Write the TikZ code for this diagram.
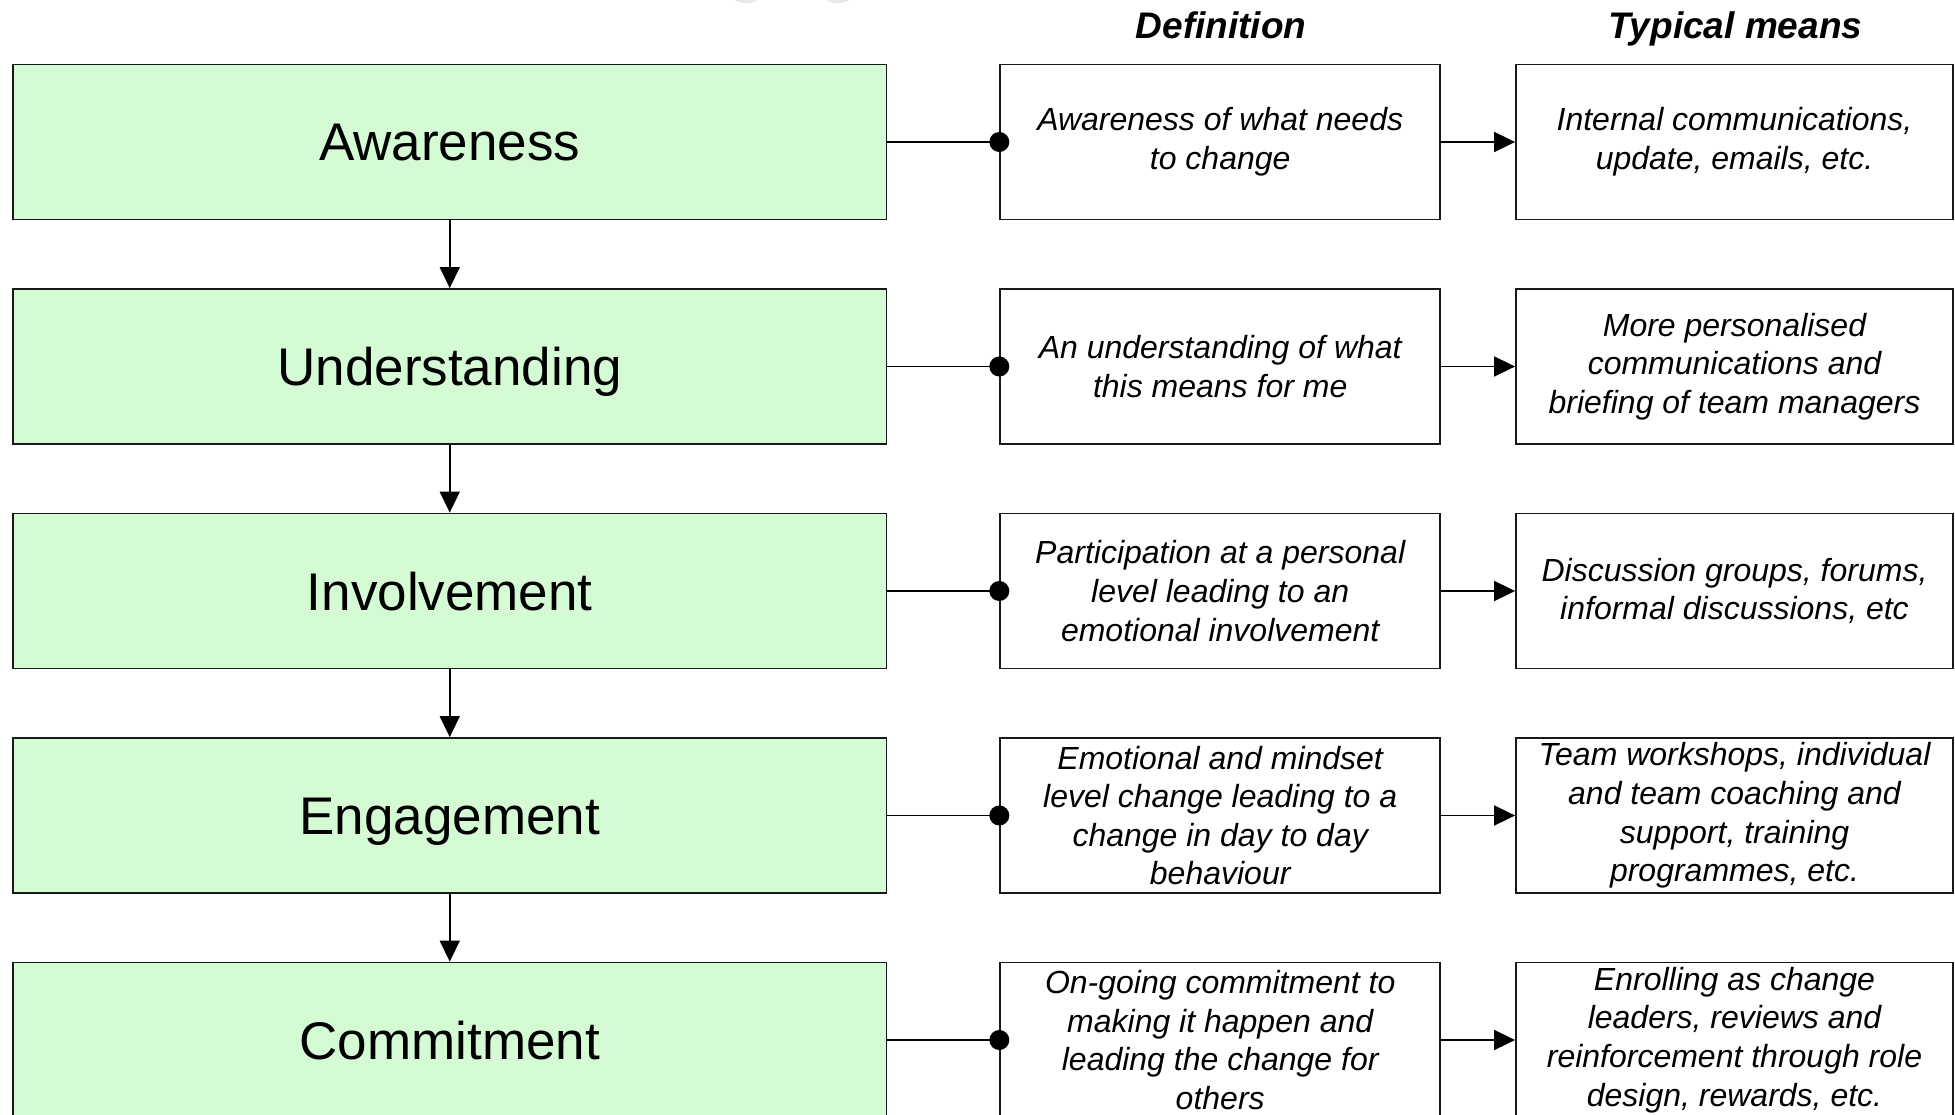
\documentclass[tikz,border=0pt]{standalone}
\usepackage{fontspec}
\setmainfont{Liberation Sans}
\usetikzlibrary{arrows.meta}
\definecolor{stagegreen}{RGB}{212,251,212}
\definecolor{edgegrey}{RGB}{25,25,25}
\definecolor{ghost}{RGB}{232,232,232}
\begin{document}
\begin{tikzpicture}[x=1pt,y=-1pt,
  stage/.style={draw=edgegrey,line width=1.8pt,fill=stagegreen,
    minimum width=873.5pt,minimum height=155pt,inner sep=0pt,
    font=\fontsize{53}{64}\selectfont,text height=38pt,text depth=0pt},
  infobox/.style={draw=edgegrey,line width=1.8pt,fill=white,
    minimum height=155pt,inner sep=0pt,align=center,
    font=\fontsize{32}{38.6}\selectfont\itshape},
  defbox/.style={infobox,minimum width=440pt},
  meansbox/.style={infobox,minimum width=437pt},
  header/.style={font=\fontsize{37}{44}\selectfont\bfseries\itshape,
    inner sep=0pt,anchor=base},
  link/.style={line width=1.7pt},
  flow/.style={line width=1.7pt,-{Triangle[length=21pt,width=20pt]}},
  down/.style={line width=1.5pt,-{Triangle[length=21pt,width=20pt]}},
]
\useasboundingbox (0,0) rectangle (1955,1115);

% faint marks along the top edge
\fill[ghost] (746,-5) ellipse[x radius=15pt,y radius=8pt];
\fill[ghost] (838,-5) ellipse[x radius=15pt,y radius=8pt];

% column headers
\node[header] (hdef) at (1221,38.6) {Definition};
\node[header] (hmeans) at (1735.5,38.6) {Typical means};

% stages
\node[stage] (g1) at (449.75,142) {Awareness};
\node[stage] (g2) at (449.75,366.5) {Understanding};
\node[stage] (g3) at (449.75,591) {Involvement};
\node[stage] (g4) at (449.75,815.5) {Engagement};
\node[stage] (g5) at (449.75,1040) {Commitment};

% definitions
\node[defbox] (d1) at (1220.2,142) {Awareness of what needs\\to change};
\node[defbox] (d2) at (1220.2,366.5) {An understanding of what\\this means for me};
\node[defbox] (d3) at (1220.2,591) {Participation at a personal\\level leading to an\\emotional involvement};
\node[defbox] (d4) at (1220.2,815.5) {Emotional and mindset\\level change leading to a\\change in day to day\\behaviour};
\node[defbox] (d5) at (1220.2,1040) {On-going commitment to\\making it happen and\\leading the change for\\others};

% typical means
\node[meansbox] (t1) at (1734.5,142) {Internal communications,\\update, emails, etc.};
\node[meansbox] (t2) at (1734.5,366.5) {More personalised\\communications and\\briefing of team managers};
\node[meansbox] (t3) at (1734.5,591) {Discussion groups, forums,\\informal discussions, etc};
\node[meansbox] (t4) at (1734.5,815.5) {Team workshops, individual\\and team coaching and\\support, training\\programmes, etc.};
\node[meansbox] (t5) at (1734.5,1040) {Enrolling as change\\leaders, reviews and\\reinforcement through role\\design, rewards, etc.};

% stage sequence
\draw[down] (g1.south) -- (g2.north);
\draw[down] (g2.south) -- (g3.north);
\draw[down] (g3.south) -- (g4.north);
\draw[down] (g4.south) -- (g5.north);

% stage to definition, definition to means
\foreach \k in {1,...,5}{
  \draw[link] (g\k.east) -- (d\k.west);
  \fill (d\k.west) circle[radius=10pt];
  \draw[flow] (d\k.east) -- (t\k.west);
}
\end{tikzpicture}
\end{document}
